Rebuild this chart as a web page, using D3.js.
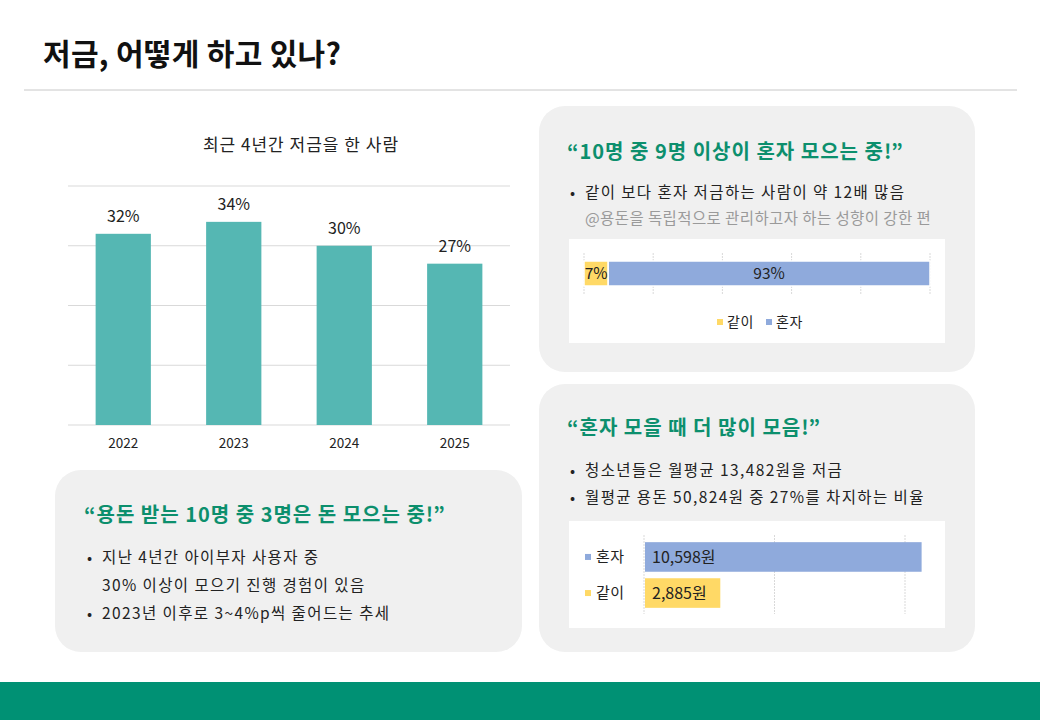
<!DOCTYPE html>
<html>
<head>
<meta charset="utf-8">
<script src="https://cdn.jsdelivr.net/npm/d3@7"></script>
<style>
  body { margin: 0; background: #fff; }
  svg text { font-family: "Noto Sans CJK KR", "Noto Sans", sans-serif; }
</style>
</head>
<body>
<div id="chart"></div>
<script>
// data
const years = ['2022', '2023', '2024', '2025'];
const savingRate = [32, 34, 30, 27];
const rateTicks = [0, 10, 20, 30, 40];

const shareLabels = ['같이', '혼자'];
const shareValues = [7, 93];
const shareTicks = [0, 20, 40, 60, 80, 100];

const amountLabels = ['혼자', '같이'];
const amountValues = [10598, 2885];
const amountTicks = [0, 5000, 10000];

const green = '#0c8f6d';
const teal = '#55b7b3';
const yellow = '#ffd966';
const blue = '#8faadc';

const width = 1040;
const height = 720;

const svg = d3.select('#chart')
    .append('svg')
    .attr('width', width)
    .attr('height', height);

// header
svg.append('text')
    .attr('x', 43).attr('y', 65)
    .attr('font-size', 30).attr('font-weight', 700)
    .attr('letter-spacing', 0.3)
    .attr('fill', '#111')
    .text('저금, 어떻게 하고 있나?');

svg.append('line')
    .attr('x1', 24).attr('x2', 1017)
    .attr('y1', 90).attr('y2', 90)
    .attr('stroke', '#c8c8c8');

// footer band
svg.append('rect')
    .attr('x', 0).attr('y', 682)
    .attr('width', width).attr('height', 38)
    .attr('fill', '#009174');

// ---- column chart ----
const x = d3.scaleBand()
    .domain(years)
    .range([68, 510])
    .paddingInner(0.5)
    .paddingOuter(0.25);

const y = d3.scaleLinear()
    .domain([0, 40])
    .range([425, 186]);

svg.append('text')
    .attr('x', 301).attr('y', 151)
    .attr('text-anchor', 'middle')
    .attr('font-size', 17).attr('letter-spacing', 1)
    .attr('fill', '#222')
    .text('최근 4년간 저금을 한 사람');

svg.append('g')
    .selectAll('line')
    .data(rateTicks)
    .join('line')
    .attr('x1', 68).attr('x2', 510)
    .attr('y1', d => y(d)).attr('y2', d => y(d))
    .attr('stroke', '#d9d9d9');

svg.append('g')
    .selectAll('rect')
    .data(savingRate)
    .join('rect')
    .attr('x', (d, i) => x(years[i]))
    .attr('y', d => y(d))
    .attr('width', x.bandwidth())
    .attr('height', d => y(0) - y(d))
    .attr('fill', teal);

svg.append('g')
    .selectAll('text')
    .data(savingRate)
    .join('text')
    .attr('x', (d, i) => x(years[i]) + x.bandwidth() / 2)
    .attr('y', d => y(d) - 12)
    .attr('text-anchor', 'middle')
    .attr('font-size', 16).attr('fill', '#222')
    .text(d => d + '%');

svg.append('g')
    .attr('transform', 'translate(0,425)')
    .call(d3.axisBottom(x).tickSize(0).tickPadding(13))
    .call(g => g.select('.domain').remove())
    .selectAll('text')
    .attr('font-size', 13.5).attr('fill', '#222')
    .style('font-family', '"Noto Sans CJK KR", sans-serif');

// ---- cards ----
function card(x0, y0, w, h) {
    svg.append('rect')
        .attr('x', x0).attr('y', y0)
        .attr('width', w).attr('height', h)
        .attr('rx', 26)
        .attr('fill', '#f0f0f0');
}

function heading(x0, y0, txt) {
    svg.append('text')
        .attr('x', x0).attr('y', y0)
        .attr('font-size', 20).attr('font-weight', 700)
        .attr('letter-spacing', 1)
        .attr('fill', green)
        .text(txt);
}

function bullet(x0, y0, txt, dot = true, color = '#222', spacing = 1.4) {
    if (dot) {
        svg.append('text')
            .attr('x', x0).attr('y', y0)
            .attr('font-size', 15).attr('fill', '#222')
            .text('•');
    }
    svg.append('text')
        .attr('x', x0 + 15).attr('y', y0)
        .attr('font-size', 15.5).attr('letter-spacing', spacing)
        .attr('fill', color)
        .text(txt);
}

// bottom-left card
card(55, 470, 467, 182);
heading(84, 522, '“용돈 받는 10명 중 3명은 돈 모으는 중!”');
bullet(87, 563, '지난 4년간 아이부자 사용자 중');
bullet(87, 591, '30% 이상이 모으기 진행 경험이 있음', false);
bullet(87, 619, '2023년 이후로 3~4%p씩 줄어드는 추세');

// top-right card
card(539, 106, 436, 266);
heading(567, 159, '“10명 중 9명 이상이 혼자 모으는 중!”');
bullet(570, 198, '같이 보다 혼자 저금하는 사람이 약 12배 많음');
bullet(570, 224, '@용돈을 독립적으로 관리하고자 하는 성향이 강한 편', false, '#9a9a9a', 0.4);

svg.append('rect')
    .attr('x', 569).attr('y', 239)
    .attr('width', 376).attr('height', 104)
    .attr('fill', '#fff');

const sx = d3.scaleLinear().domain([0, 100]).range([584, 930]);

svg.append('g')
    .selectAll('line')
    .data(shareTicks)
    .join('line')
    .attr('x1', d => sx(d)).attr('x2', d => sx(d))
    .attr('y1', 253).attr('y2', 294)
    .attr('stroke', '#d9d9d9')
    .attr('stroke-dasharray', '2,1');

const stacked = shareValues.map((v, i) => ({
    label: shareLabels[i],
    v0: d3.sum(shareValues.slice(0, i)),
    v1: d3.sum(shareValues.slice(0, i + 1)),
    v: v
}));
const shareColor = d3.scaleOrdinal().domain(shareLabels).range([yellow, blue]);

svg.append('g')
    .selectAll('rect')
    .data(stacked)
    .join('rect')
    .attr('x', d => sx(d.v0))
    .attr('y', 261)
    .attr('width', d => sx(d.v1) - sx(d.v0))
    .attr('height', 25)
    .attr('fill', d => shareColor(d.label))
    .attr('stroke', '#fff')
    .attr('stroke-width', 1.5);

svg.append('g')
    .selectAll('text')
    .data(stacked)
    .join('text')
    .attr('x', d => (sx(d.v0) + sx(d.v1)) / 2)
    .attr('y', 279)
    .attr('text-anchor', 'middle')
    .attr('font-size', 15.5).attr('fill', '#222')
    .text(d => d.v + '%');

const legend = svg.append('g')
    .selectAll('g')
    .data(shareLabels)
    .join('g')
    .attr('transform', (d, i) => `translate(${717 + i * 49},322)`);
legend.append('rect')
    .attr('x', 0).attr('y', -3)
    .attr('width', 6).attr('height', 6)
    .attr('fill', d => shareColor(d));
legend.append('text')
    .attr('x', 10).attr('y', 5)
    .attr('font-size', 14).attr('letter-spacing', 0.5)
    .attr('fill', '#222')
    .text(d => d);

// bottom-right card
card(539, 384, 436, 268);
heading(567, 435, '“혼자 모을 때 더 많이 모음!”');
bullet(570, 476, '청소년들은 월평균 13,482원을 저금');
bullet(570, 503, '월평균 용돈 50,824원 중 27%를 차지하는 비율');

svg.append('rect')
    .attr('x', 569).attr('y', 521)
    .attr('width', 376).attr('height', 107)
    .attr('fill', '#fff');

const ax = d3.scaleLinear().domain([0, 10000]).range([644, 905]);
const ay = d3.scaleBand().domain(amountLabels).range([540, 610]).paddingInner(0.18).paddingOuter(0.06);
const amountColor = d3.scaleOrdinal().domain(amountLabels).range([blue, yellow]);

svg.append('g')
    .selectAll('line')
    .data(amountTicks)
    .join('line')
    .attr('x1', d => ax(d)).attr('x2', d => ax(d))
    .attr('y1', 535).attr('y2', 614)
    .attr('stroke', '#d9d9d9')
    .attr('stroke-dasharray', '2,1');

svg.append('g')
    .selectAll('rect')
    .data(amountValues)
    .join('rect')
    .attr('x', ax(0) + 1)
    .attr('y', (d, i) => ay(amountLabels[i]))
    .attr('width', d => ax(d) - ax(0))
    .attr('height', ay.bandwidth())
    .attr('fill', (d, i) => amountColor(amountLabels[i]));

svg.append('g')
    .selectAll('text')
    .data(amountValues)
    .join('text')
    .attr('x', ax(0) + 8)
    .attr('y', (d, i) => ay(amountLabels[i]) + ay.bandwidth() / 2 + 6)
    .attr('font-size', 16).attr('fill', '#222')
    .text(d => d3.format(',')(d) + '원');

const catLegend = svg.append('g')
    .selectAll('g')
    .data(amountLabels)
    .join('g')
    .attr('transform', (d, i) => `translate(585,${ay(d) + ay.bandwidth() / 2})`);
catLegend.append('rect')
    .attr('x', 0).attr('y', -3)
    .attr('width', 6).attr('height', 6)
    .attr('fill', d => amountColor(d));
catLegend.append('text')
    .attr('x', 11).attr('y', 5)
    .attr('font-size', 15).attr('letter-spacing', 0.5)
    .attr('fill', '#222')
    .text(d => d);
</script>
</body>
</html>
